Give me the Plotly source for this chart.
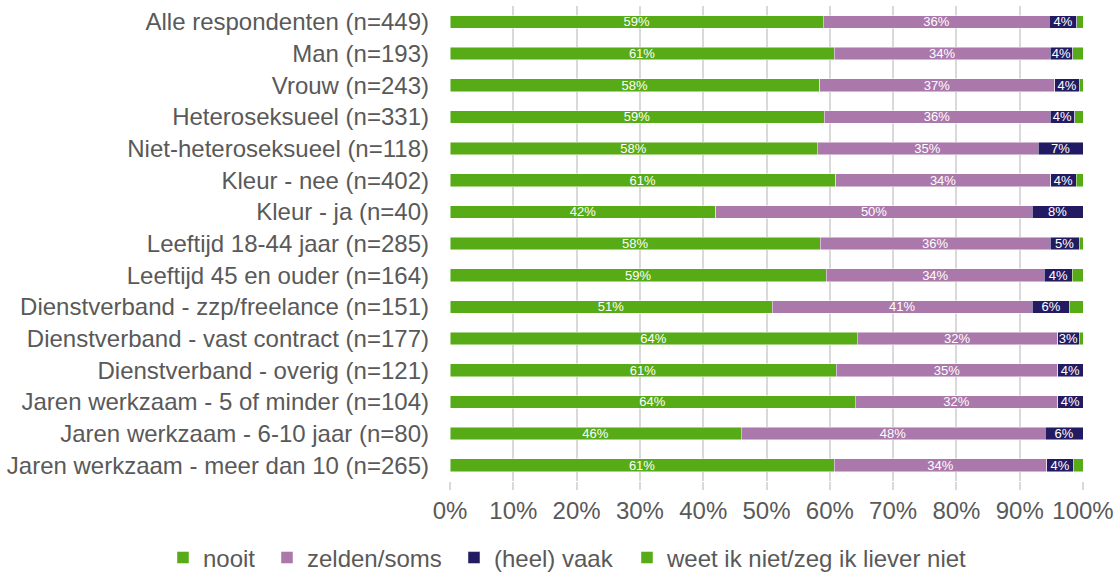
import plotly.graph_objects as go

categories = [
    "Alle respondenten (n=449)",
    "Man (n=193)",
    "Vrouw (n=243)",
    "Heteroseksueel (n=331)",
    "Niet-heteroseksueel (n=118)",
    "Kleur - nee (n=402)",
    "Kleur - ja (n=40)",
    "Leeftijd 18-44 jaar (n=285)",
    "Leeftijd 45 en ouder (n=164)",
    "Dienstverband - zzp/freelance (n=151)",
    "Dienstverband - vast contract (n=177)",
    "Dienstverband - overig (n=121)",
    "Jaren werkzaam - 5 of minder (n=104)",
    "Jaren werkzaam - 6-10 jaar (n=80)",
    "Jaren werkzaam - meer dan 10 (n=265)",
]

nooit = [59.0, 60.7, 58.4, 59.1, 58.0, 60.9, 42.0, 58.5, 59.45, 50.9, 64.3, 61.0, 64.0, 46.0, 60.7]
zelden = [35.7, 34.1, 37.1, 35.7, 34.9, 34.0, 50.0, 36.3, 34.45, 41.1, 31.7, 35.0, 32.0, 48.0, 33.6]
vaak = [4.3, 3.6, 4.0, 3.9, 7.1, 4.0, 8.0, 4.6, 4.4, 5.9, 3.4, 4.0, 4.0, 6.0, 4.2]
weet = [1.0, 1.6, 0.5, 1.3, 0.0, 1.1, 0.0, 0.6, 1.7, 2.1, 0.6, 0.0, 0.0, 0.0, 1.5]

series_names = ["nooit", "zelden/soms", "(heel) vaak", "weet ik niet/zeg ik liever niet"]
series_values = [nooit, zelden, vaak, weet]
series_colors = ["#56AB17", "#AB78AB", "#221B62", "#56AB17"]
show_labels = [True, True, True, False]

x_ticks = [0, 10, 20, 30, 40, 50, 60, 70, 80, 90, 100]
x_tick_labels = [f"{t}%" for t in x_ticks]

FONT = "Liberation Sans, Arial, sans-serif"
GRAY = "#595959"

# legend entry anchor positions (paper x) for each series
legend_ids = ["legend", "legend2", "legend3", "legend4"]
legend_x = [-0.4534, -0.2891, 0.0063, 0.2796]

fig = go.Figure()
for name, vals, col, lab, lid in zip(series_names, series_values, series_colors, show_labels, legend_ids):
    fig.add_trace(go.Bar(
        y=categories,
        x=vals,
        name=name,
        orientation="h",
        legend=lid,
        marker=dict(color=col, line=dict(color="rgba(255,255,255,0.6)", width=0.8)),
        text=[f"{round(v)}%" for v in vals] if lab else None,
        textposition="inside" if lab else "none",
        insidetextanchor="middle",
        textangle=0,
        textfont=dict(color="white", size=13, family=FONT),
        hoverinfo="x+y+name",
    ))

legend_common = dict(
    orientation="h",
    xref="paper", yref="paper",
    xanchor="left",
    y=-0.162, yanchor="middle",
    bgcolor="rgba(0,0,0,0)",
    font=dict(size=24, color=GRAY, family=FONT),
    itemwidth=30,
)
legend_layout = {lid: dict(legend_common, x=lx) for lid, lx in zip(legend_ids, legend_x)}

fig.update_layout(
    barmode="stack",
    bargap=0.6,
    width=1116,
    height=574,
    margin=dict(l=450, r=33, t=6, b=93, autoexpand=False),
    plot_bgcolor="white",
    paper_bgcolor="white",
    font=dict(family=FONT, color=GRAY, size=24),
    uniformtext=dict(minsize=13, mode="show"),
    showlegend=True,
    xaxis=dict(
        range=[0, 100],
        tickvals=x_ticks,
        ticktext=x_tick_labels,
        showgrid=True,
        gridcolor="#D9D9D9",
        gridwidth=1.5,
        zeroline=False,
        ticks="outside",
        ticklen=8,
        tickcolor="#D9D9D9",
        tickwidth=1.5,
        tickfont=dict(size=24, color=GRAY, family=FONT),
        automargin=False,
        fixedrange=True,
    ),
    yaxis=dict(
        autorange="reversed",
        tickfont=dict(size=24, color=GRAY, family=FONT),
        ticks="",
        ticklabelstandoff=20,
        showgrid=False,
        automargin=False,
        fixedrange=True,
    ),
    **legend_layout,
)

fig.write_html(
    "out.html",
    config={"displayModeBar": False},
    post_script="document.body.style.margin='0';",
)
